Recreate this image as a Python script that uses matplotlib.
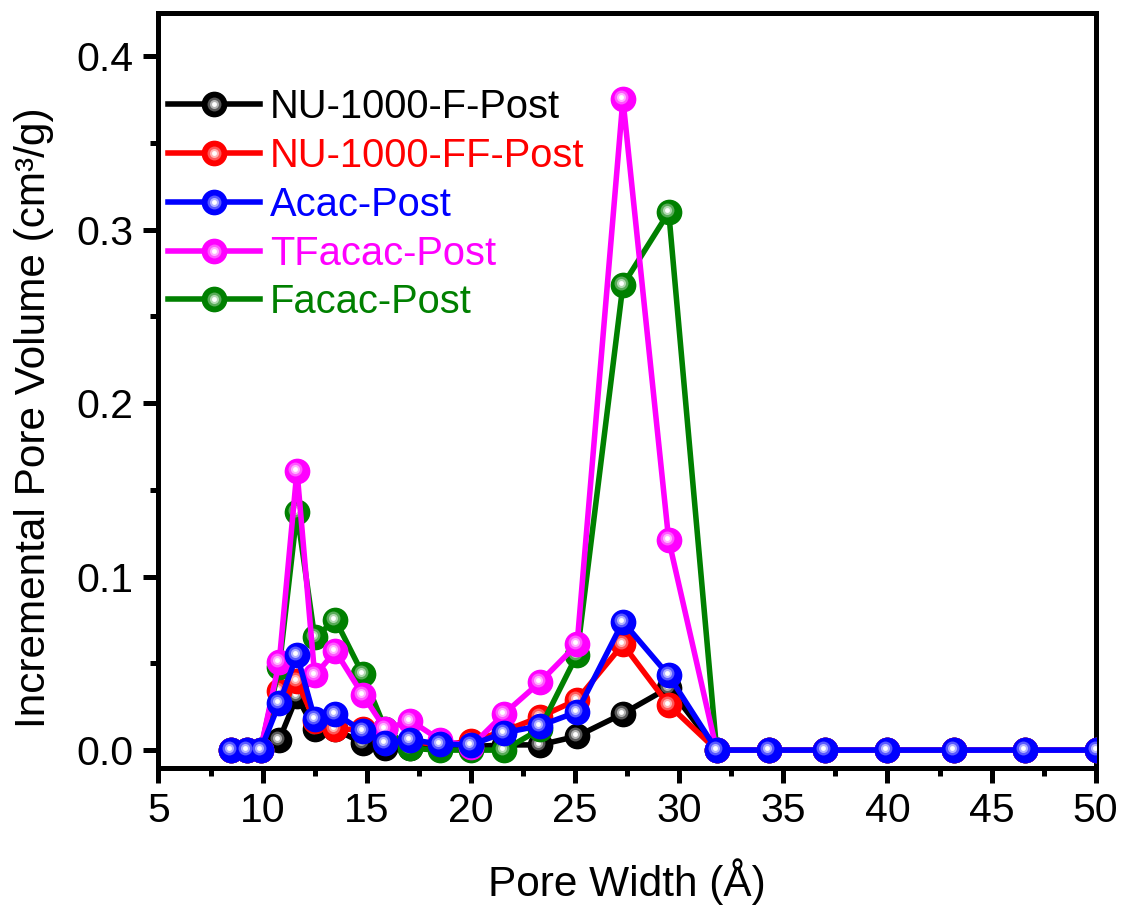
import matplotlib as mpl
mpl.use('Agg')
import matplotlib.pyplot as plt
import matplotlib.transforms as mtransforms
from matplotlib.lines import Line2D
from matplotlib.legend_handler import HandlerTuple
from matplotlib.colors import to_rgb

plt.rcParams['font.family'] = ['Liberation Sans', 'DejaVu Sans']

# pore widths (Angstrom)
width = [8.5, 9.25, 9.9, 10.8, 11.65, 12.5, 13.5, 14.8, 15.9, 17.1, 18.5, 20.0,
         21.6, 23.3, 25.1, 27.3, 29.5, 31.8, 34.3, 37.0, 40.0, 43.2, 46.6, 50.05]

nu_f = [0, 0, 0, 0.006, 0.031, 0.012, 0.012, 0.004, 0.001, 0.001, 0.002, 0.002,
        0.003, 0.003, 0.008, 0.021, 0.036, 0, 0, 0, 0, 0, 0, 0]
nu_ff = [0, 0, 0, 0.034, 0.040, 0.017, 0.012, 0.012, 0.005, 0.005, 0.003, 0.005,
         0.011, 0.019, 0.029, 0.061, 0.026, 0, 0, 0, 0, 0, 0, 0]
acac = [0, 0, 0, 0.027, 0.055, 0.018, 0.021, 0.011, 0.004, 0.006, 0.0035, 0.003,
        0.010, 0.014, 0.022, 0.074, 0.043, 0, 0, 0, 0, 0, 0, 0]
tfacac = [0, 0, 0, 0.051, 0.161, 0.043, 0.057, 0.032, 0.012, 0.017, 0.006, 0.002,
          0.021, 0.039, 0.061, 0.375, 0.121, 0, 0, 0, 0, 0, 0, 0]
facac = [0, 0, 0, 0.048, 0.137, 0.065, 0.075, 0.044, 0.012, 0.001, 0, 0,
         0, 0.012, 0.055, 0.268, 0.310, 0, 0, 0, 0, 0, 0, 0]

labels = ['NU-1000-F-Post', 'NU-1000-FF-Post', 'Acac-Post', 'TFacac-Post', 'Facac-Post']
colors = ['black', '#FF0000', '#0000FF', '#FF00FF', '#008000']
series = [nu_f, nu_ff, acac, tfacac, facac]


def lighten(c, f):
    r, g, b = to_rgb(c)
    return (r + (1 - r) * f, g + (1 - g) * f, b + (1 - b) * f)


fig = plt.figure(figsize=(11.23, 9.07), dpi=100)
ax = fig.add_axes([0.1411, 0.1529, 0.8346, 0.8331])

# shiny ball highlight, shifted a bit up-left
hl = mtransforms.offset_copy(ax.transData, fig=fig, x=-2, y=2, units='dots')

MS = 17.5
draw_order = [0, 1, 4, 3, 2]
for k, i in enumerate(draw_order):
    y = series[i]
    c = colors[i]
    z = 2 + k
    ax.plot(width, y, '-o', color=c, lw=4, ms=MS, mec=c, mfc=c, zorder=z)
    ax.plot(width, y, 'o', ms=10, mfc=lighten(c, 0.35), mec='none',
            transform=hl, zorder=z + 0.1)
    ax.plot(width, y, 'o', ms=6.5, mfc=lighten(c, 0.7), mec='none',
            transform=hl, zorder=z + 0.2)
    ax.plot(width, y, 'o', ms=3.5, mfc='white', mec='none',
            transform=hl, zorder=z + 0.3)

handles = []
for c in colors:
    handles.append((
        Line2D([], [], color=c, lw=4, marker='o', ms=MS, mfc=c, mec=c),
        Line2D([], [], ls='none', marker='o', ms=10, mfc=lighten(c, 0.35), mec='none'),
        Line2D([], [], ls='none', marker='o', ms=6.5, mfc=lighten(c, 0.7), mec='none'),
        Line2D([], [], ls='none', marker='o', ms=3.5, mfc='white', mec='none'),
    ))

ax.set_xlim(5, 50)
ax.set_ylim(-0.0105, 0.425)
ax.set_xticks([5, 10, 15, 20, 25, 30, 35, 40, 45, 50])
ax.set_xticks([7.5 + 5 * k for k in range(9)], minor=True)
ax.set_yticks([0.0, 0.1, 0.2, 0.3, 0.4])
ax.set_yticks([0.05, 0.15, 0.25, 0.35], minor=True)
ax.set_yticklabels(['0.0', '0.1', '0.2', '0.3', '0.4'])

for s in ax.spines.values():
    s.set_linewidth(3.6)
ax.tick_params(which='major', direction='out', length=11, width=3.6, labelsize=29.5)
ax.tick_params(which='minor', direction='out', length=6, width=3.6)
ax.tick_params(axis='x', which='major', pad=6)
ax.tick_params(axis='y', which='major', pad=7)

ax.set_xlabel('Pore Width (Å)', fontsize=30.5)
ax.set_ylabel('Incremental Pore Volume (cm³/g)', fontsize=30.5)
ax.xaxis.set_label_coords(0.5, -0.119)
ax.yaxis.set_label_coords(-0.111, 0.464)

leg = ax.legend(handles, labels,
                handler_map={tuple: HandlerTuple(ndivide=1, pad=0)},
                loc='upper left', bbox_to_anchor=(0.01, 0.9), frameon=False,
                fontsize=28.7, handlelength=2.3, handletextpad=0.26,
                labelspacing=0.27, borderpad=0, borderaxespad=0)
for t, c in zip(leg.get_texts(), colors):
    t.set_color(c)

plt.savefig('out.png', dpi=100)
